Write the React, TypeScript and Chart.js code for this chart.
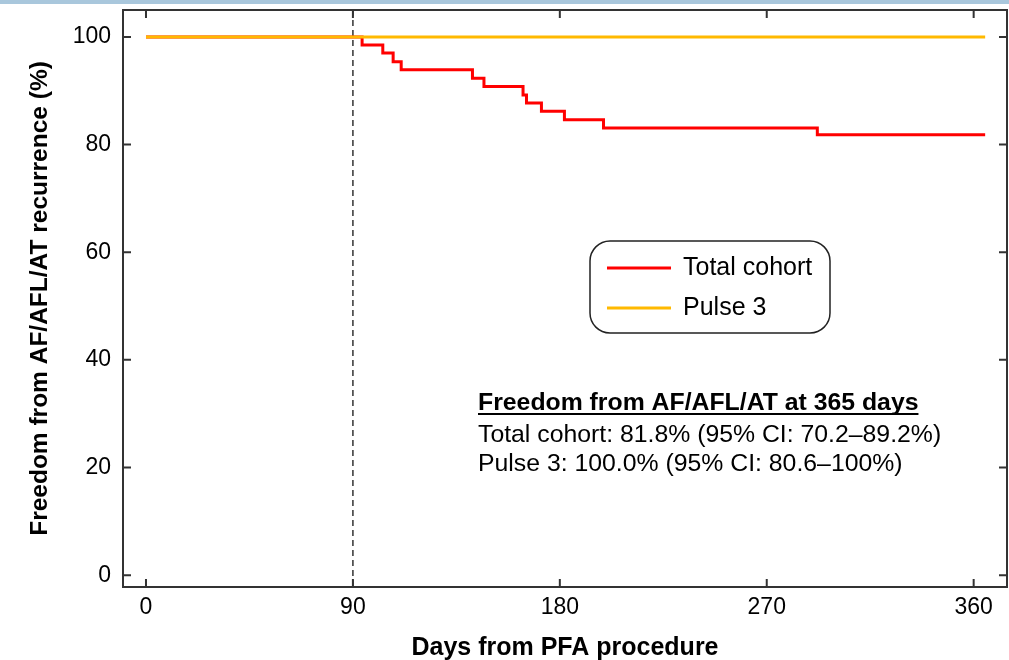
import React, { useEffect, useRef } from "react";
import { Chart, registerables } from "chart.js";

Chart.register(...registerables);

// ---- Data ----
const daysTotal = [0, 94, 103, 107.5, 111, 142, 147, 164, 165.5, 172, 182, 199, 292, 365];
const survTotal = [100, 98.5, 97.0, 95.4, 93.9, 92.3, 90.8, 89.2, 87.7, 86.2, 84.6, 83.1, 81.8, 81.8];
const daysPulse = [0, 365];
const survPulse = [100, 100];

const seriesLabels = ["Total cohort", "Pulse 3"];
const seriesColors = ["#FF0000", "#FFB900"];

const xTicks = [0, 90, 180, 270, 360];
const yTicks = [0, 20, 40, 60, 80, 100];
const blankingDay = 90;

const xTitle = "Days from PFA procedure";
const yTitle = "Freedom from AF/AFL/AT recurrence (%)";
const noteTitle = "Freedom from AF/AFL/AT at 365 days";
const noteLines = [
  "Total cohort: 81.8% (95% CI: 70.2\u201389.2%)",
  "Pulse 3: 100.0% (95% CI: 80.6\u2013100%)",
];

const FONT = "'Liberation Sans', Arial, Helvetica, sans-serif";

const decorPlugin = {
  id: "decor",
  beforeDatasetsDraw(chart: any) {
    const { ctx, chartArea, scales } = chart;
    const x = scales.x.getPixelForValue(blankingDay);
    ctx.save();
    ctx.strokeStyle = "#333333";
    ctx.lineWidth = 1.5;
    ctx.setLineDash([6, 4]);
    ctx.beginPath();
    ctx.moveTo(x, chartArea.top);
    ctx.lineTo(x, chartArea.bottom);
    ctx.stroke();
    ctx.restore();
  },
  afterDraw(chart: any) {
    const { ctx, chartArea, scales } = chart;
    const { left, right, top, bottom } = chartArea;
    ctx.save();
    // frame
    ctx.strokeStyle = "#333333";
    ctx.lineWidth = 2;
    ctx.strokeRect(left, top, right - left, bottom - top);
    // inward ticks
    const tl = 8;
    ctx.beginPath();
    for (const v of xTicks) {
      const px = scales.x.getPixelForValue(v);
      ctx.moveTo(px, bottom);
      ctx.lineTo(px, bottom - tl);
      ctx.moveTo(px, top);
      ctx.lineTo(px, top + tl);
    }
    for (const v of yTicks) {
      const py = scales.y.getPixelForValue(v);
      ctx.moveTo(left, py);
      ctx.lineTo(left + tl, py);
      ctx.moveTo(right, py);
      ctx.lineTo(right - tl, py);
    }
    ctx.stroke();

    // legend box
    const bx = left + 467;
    const by = top + 231;
    const bw = 240;
    const bh = 92;
    ctx.lineWidth = 1.5;
    ctx.strokeStyle = "#222222";
    ctx.beginPath();
    ctx.roundRect(bx, by, bw, bh, 20);
    ctx.stroke();
    ctx.font = `25px ${FONT}`;
    ctx.textBaseline = "middle";
    ctx.textAlign = "left";
    ctx.fillStyle = "#000000";
    seriesLabels.forEach((lab, i) => {
      const ly = by + 27 + i * 40;
      ctx.strokeStyle = seriesColors[i];
      ctx.lineWidth = 3;
      ctx.beginPath();
      ctx.moveTo(bx + 17, ly);
      ctx.lineTo(bx + 81, ly);
      ctx.stroke();
      ctx.fillText(lab, bx + 93, ly);
    });

    // annotation
    const ax = left + 355;
    const ay = top + 400;
    ctx.textBaseline = "alphabetic";
    ctx.font = `bold 24.8px ${FONT}`;
    ctx.fillText(noteTitle, ax, ay);
    const w = ctx.measureText(noteTitle).width;
    ctx.strokeStyle = "#000000";
    ctx.lineWidth = 2;
    ctx.beginPath();
    ctx.moveTo(ax, ay + 4);
    ctx.lineTo(ax + w, ay + 4);
    ctx.stroke();
    ctx.font = `24.8px ${FONT}`;
    noteLines.forEach((t, i) => {
      ctx.fillText(t, ax, ay + 32 + 29 * i);
    });
    ctx.restore();
  },
};

export default function App() {
  const ref = useRef<HTMLCanvasElement | null>(null);
  useEffect(() => {
    if (!ref.current) return;
    const chart = new Chart(ref.current, {
      type: "line",
      data: {
        datasets: [
          {
            label: seriesLabels[0],
            data: daysTotal.map((d, i) => ({ x: d, y: survTotal[i] })),
            borderColor: seriesColors[0],
            backgroundColor: seriesColors[0],
            borderWidth: 3,
            pointRadius: 0,
            stepped: "before",
            fill: false,
            order: 1,
          },
          {
            label: seriesLabels[1],
            data: daysPulse.map((d, i) => ({ x: d, y: survPulse[i] })),
            borderColor: seriesColors[1],
            backgroundColor: seriesColors[1],
            borderWidth: 3,
            pointRadius: 0,
            fill: false,
            order: 0,
          },
        ],
      },
      options: {
        responsive: false,
        animation: false,
        devicePixelRatio: 1,
        layout: { autoPadding: false, padding: { top: 10, right: 2, left: 0, bottom: 0 } },
        plugins: {
          legend: { display: false },
          tooltip: { enabled: false },
        },
        scales: {
          x: {
            type: "linear",
            min: -10,
            max: 374.5,
            grid: { display: false, drawTicks: false },
            border: { display: false },
            afterBuildTicks: (s: any) => {
              s.ticks = xTicks.map((v) => ({ value: v }));
            },
            afterFit: (s: any) => {
              s.height = 73;
              s.paddingLeft = 0;
              s.paddingRight = 0;
            },
            ticks: {
              color: "#000000",
              padding: 9,
              maxRotation: 0,
              font: { family: FONT, size: 23, lineHeight: 1 },
            },
            title: {
              display: true,
              text: xTitle,
              color: "#000000",
              padding: { top: 0, bottom: -1 },
              font: { family: FONT, size: 25, weight: "bold", lineHeight: 1 },
            },
          },
          y: {
            type: "linear",
            min: -2.2,
            max: 105,
            grid: { display: false, drawTicks: false },
            border: { display: false },
            afterBuildTicks: (s: any) => {
              s.ticks = yTicks.map((v) => ({ value: v }));
            },
            afterFit: (s: any) => {
              s.width = 123;
              s.paddingTop = 0;
              s.paddingBottom = 0;
            },
            ticks: {
              color: "#000000",
              padding: 12,
              font: { family: FONT, size: 23, lineHeight: 1 },
            },
            title: {
              display: true,
              text: yTitle,
              color: "#000000",
              padding: { top: 28, bottom: 0 },
              font: { family: FONT, size: 24.5, weight: "bold", lineHeight: 1 },
            },
          },
        },
      },
      plugins: [decorPlugin],
    } as any);
    return () => chart.destroy();
  }, []);

  return (
    <div style={{ position: "absolute", left: 0, top: 0, width: 1009, height: 660, background: "#ffffff" }}>
      <canvas ref={ref} width={1009} height={660} style={{ display: "block" }} />
      <div style={{ position: "absolute", left: 0, top: 0, width: 1009, height: 4, background: "#A9C7DC" }} />
    </div>
  );
}
